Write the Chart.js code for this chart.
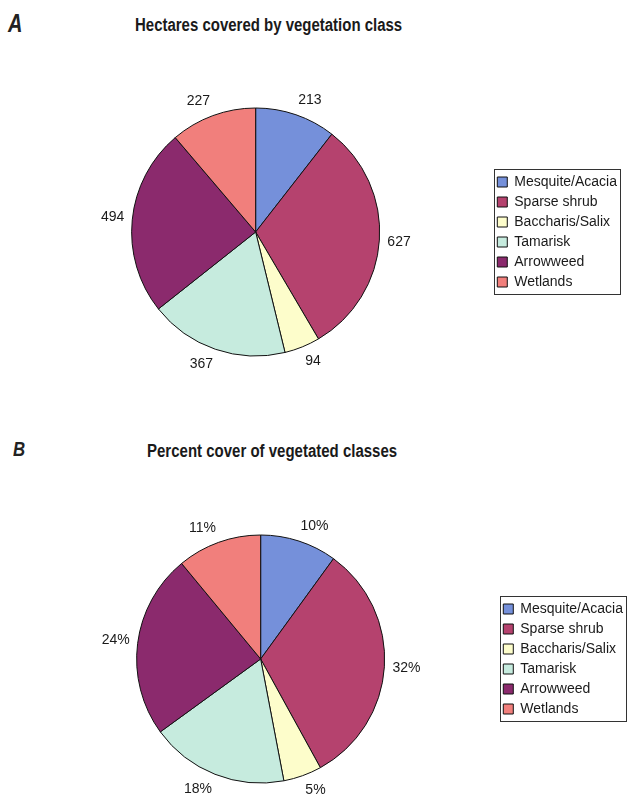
<!DOCTYPE html>
<html>
<head>
<meta charset="utf-8">
<script src="https://cdn.jsdelivr.net/npm/chart.js@4/dist/chart.umd.min.js"></script>
<style>
  html, body { margin: 0; padding: 0; background: #fff; width: 627px; height: 799px; overflow: hidden; position: relative; }
  .panel { position: absolute; left: 0; }
  .letter { position: absolute; font-family: "Liberation Sans", Arial, sans-serif; font-weight: bold; font-style: italic; color: #222; transform-origin: left top; }
  .title { position: absolute; white-space: nowrap; font-family: "Liberation Sans", Arial, sans-serif; font-weight: bold; font-size: 18px; line-height: 18px; color: #1a1a1a; transform-origin: center top; }
</style>
</head>
<body>
<div class="letter" style="left:8px; top:11px; font-size:25px; line-height:25px; transform:scaleX(0.8);">A</div>
<div class="title" id="titleA" data-cx="268" data-w="267" style="top:16px;">Hectares covered by vegetation class</div>
<div class="panel" style="top:0px; width:627px; height:400px;"><canvas id="chartA"></canvas></div>

<div class="letter" style="left:13px; top:438px; font-size:21px; line-height:21px; transform:scaleX(0.8);">B</div>
<div class="title" id="titleB" data-cx="272" data-w="250" style="top:442px;">Percent cover of vegetated classes</div>
<div class="panel" style="top:400px; width:633px; height:399px;"><canvas id="chartB"></canvas></div>

<script>
// vegetation classes
var classes = ["Mesquite/Acacia", "Sparse shrub", "Baccharis/Salix", "Tamarisk", "Arrowweed", "Wetlands"];
// panel A - hectares
var hectares = [213, 627, 94, 367, 494, 227];
// panel B - percent cover
var percents = [10, 32, 5, 18, 24, 11];
var colors = ["#7590da", "#b5426e", "#fdfdcb", "#c6ebde", "#8b2a6d", "#f17f7c"];

// squeeze the bold titles to the narrow width of the original
["titleA", "titleB"].forEach(function(id){
    var el = document.getElementById(id);
    var w = el.offsetWidth;
    var target = +el.dataset.w;
    el.style.left = (+el.dataset.cx - w / 2) + "px";
    el.style.transform = "scaleX(" + (target / w) + ")";
});

// value labels outside the slices (excel style: label corner near the rim)
const outLabels = {
    id: 'outLabels',
    afterDatasetsDraw(chart, args, opts) {
        const ctx = chart.ctx;
        const meta = chart.getDatasetMeta(0);
        const vals = chart.data.datasets[0].data;
        ctx.save();
        ctx.font = '14px "Liberation Sans", Arial, sans-serif';
        ctx.fillStyle = '#1a1a1a';
        ctx.textAlign = 'center';
        ctx.textBaseline = 'middle';
        meta.data.forEach(function(arc, i){
            const p = arc.getProps(['x', 'y', 'startAngle', 'endAngle', 'outerRadius'], true);
            const mid = (p.startAngle + p.endAngle) / 2;
            const dx = Math.cos(mid), dy = Math.sin(mid);
            const r = p.outerRadius + opts.offset;
            const txt = vals[i] + opts.suffix;
            const w = ctx.measureText(txt).width;
            const fx = Math.max(-1, Math.min(1, dx * 3));
            const fy = Math.max(-1, Math.min(1, dy * 3));
            ctx.fillText(txt, p.x + dx * r + fx * w / 2, p.y + dy * r + fy * 7);
        });
        ctx.restore();
    }
};

// frame round the legend
const legendBox = {
    id: 'legendBox',
    afterDraw(chart) {
        const boxes = chart.legend.legendHitBoxes;
        if (!boxes || !boxes.length) return;
        var x0 = Infinity, y0 = Infinity, x1 = -Infinity, y1 = -Infinity;
        boxes.forEach(function(b){
            x0 = Math.min(x0, b.left); y0 = Math.min(y0, b.top);
            x1 = Math.max(x1, b.left + b.width); y1 = Math.max(y1, b.top + b.height);
        });
        const ctx = chart.ctx;
        ctx.save();
        ctx.strokeStyle = '#333';
        ctx.lineWidth = 1;
        ctx.strokeRect(Math.round(x0 - 3) + 0.5, Math.round(y0 - 6) + 0.5, Math.round(x1 - x0 + 6), Math.round(y1 - y0 + 11));
        ctx.restore();
    }
};

function makePie(id, values, suffix, pad){
    const config = {
        type: 'pie',
        data: {
            labels: classes,
            datasets: [{
                data: values,
                backgroundColor: colors,
                borderColor: '#111',
                borderWidth: 1,
                radius: 124
            }]
        },
        options: {
            responsive: true,
            maintainAspectRatio: false,
            animation: false,
            layout: { padding: pad },
            plugins: {
                title: { display: false },
                tooltip: { enabled: false },
                legend: {
                    position: 'right',
                    labels: {
                        boxWidth: 10,
                        boxHeight: 10,
                        padding: 6,
                        color: '#1a1a1a',
                        font: { family: '"Liberation Sans", Arial, sans-serif', size: 14 }
                    }
                },
                outLabels: { offset: 8, suffix: suffix }
            }
        },
        plugins: [outLabels, legendBox]
    };
    return new Chart(document.getElementById(id), config);
}

var chartA = makePie('chartA', hectares, '', { left: 20, right: 0, top: 64, bottom: 0 });
var chartB = makePie('chartB', percents, '%', { left: 24, right: 0, top: 120, bottom: 1 });
</script>
</body>
</html>
